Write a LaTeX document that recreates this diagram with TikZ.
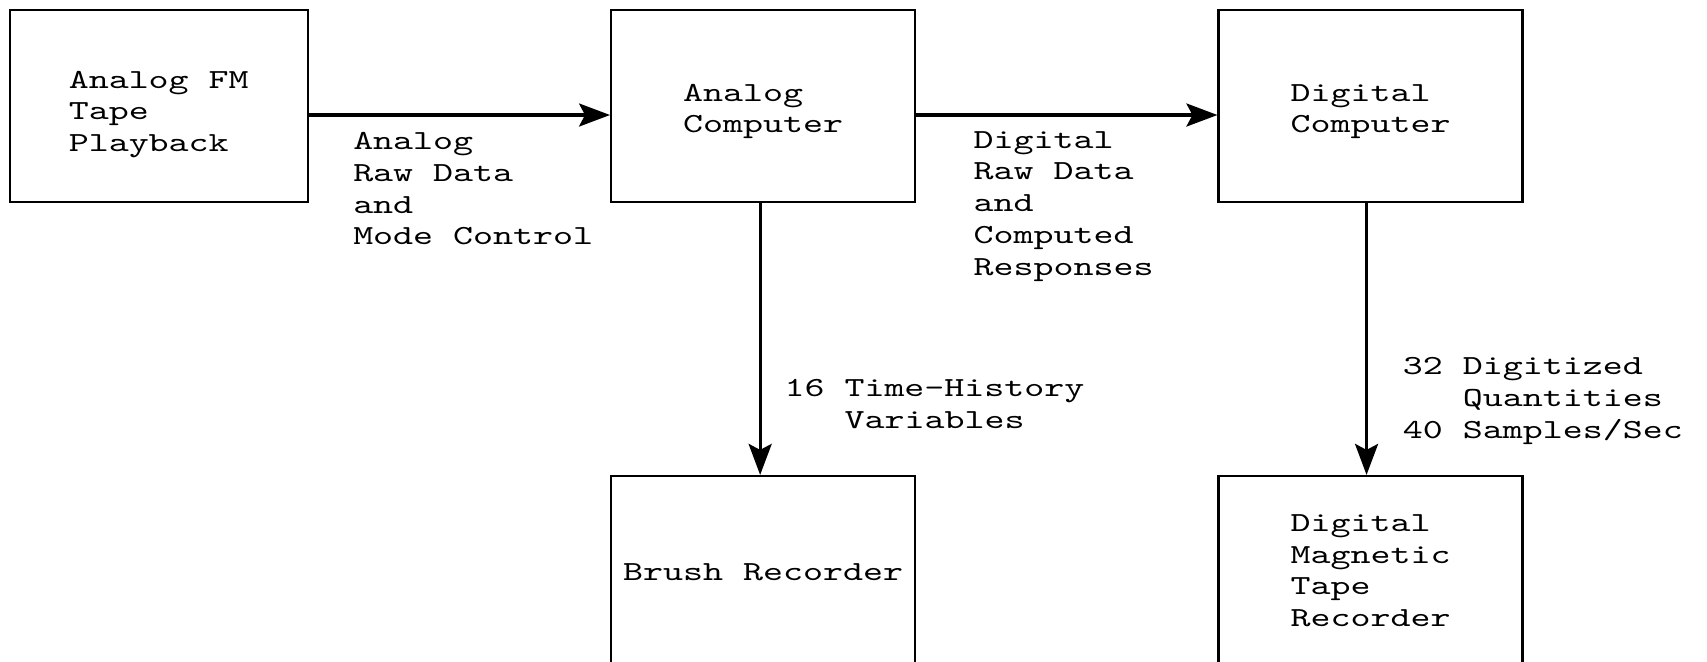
\documentclass[tikz,border=0pt]{standalone}
\usepackage{fontspec}
\newfontfamily\typewr{lmmono10-regular.otf}[FakeStretch=1.38]
\usetikzlibrary{positioning,arrows.meta}

\begin{document}
\begin{tikzpicture}[
  font=\typewr\fontsize{13.8}{15.85}\selectfont,
  node distance=135.9pt and 150.6pt,
  blk/.style={draw, line width=1.1pt, minimum width=152pt, minimum height=96pt, align=left, inner sep=0pt},
  arr/.style={-{Stealth[length=15.5pt, width=11.5pt, inset=3pt]}, line width=1.6pt},
  lab/.style={align=left, inner sep=0pt}
]

% page frame (lower boxes run off the bottom edge)
\path[use as bounding box, clip] (-79.375pt,53pt) rectangle (774.125pt,-277.5pt);

% ---------------- top row ----------------
\node[blk, minimum width=149pt, text height=48.7pt] (playback) {Analog FM\\Tape\\Playback};
\node[blk, right=of playback, text height=30pt] (ancomp) {Analog\\Computer};
\node[blk, right=of ancomp, text height=30pt] (digcomp) {Digital\\Computer};

\draw[arr] ([yshift=-4.5pt]playback.east) -- ([yshift=-4.5pt]ancomp.west);
\draw[arr] ([yshift=-4.5pt]ancomp.east) -- ([yshift=-4.5pt]digcomp.west);

\node[lab, below right=13pt and 22pt of playback.east] (rawan) {Analog\\Raw Data\\and\\Mode Control};
\node[lab, below right=12.5pt and 28.5pt of ancomp.east] (rawdig) {Digital\\Raw Data\\and\\Computed\\Responses};

% ---------------- recorders ----------------
\node[blk, below=of ancomp] (brush) {Brush Recorder};
\node[blk, below=of digcomp, text height=54.8pt] (magtape) {Digital\\Magnetic\\Tape\\Recorder};

\draw[arr] ([xshift=-1.5pt]ancomp.south) -- ([xshift=-1.5pt]brush.north);
\draw[arr] ([xshift=-2pt]digcomp.south) -- ([xshift=-2pt]magtape.north);

\node[lab, below right=88pt and 10.5pt of ancomp.south] (hist) {16 Time-History\\\phantom{16 }Variables};
\node[lab, below right=77pt and 16pt of digcomp.south] (quant) {32 Digitized\\\phantom{32 }Quantities\\40 Samples/Sec};

\end{tikzpicture}
\end{document}
